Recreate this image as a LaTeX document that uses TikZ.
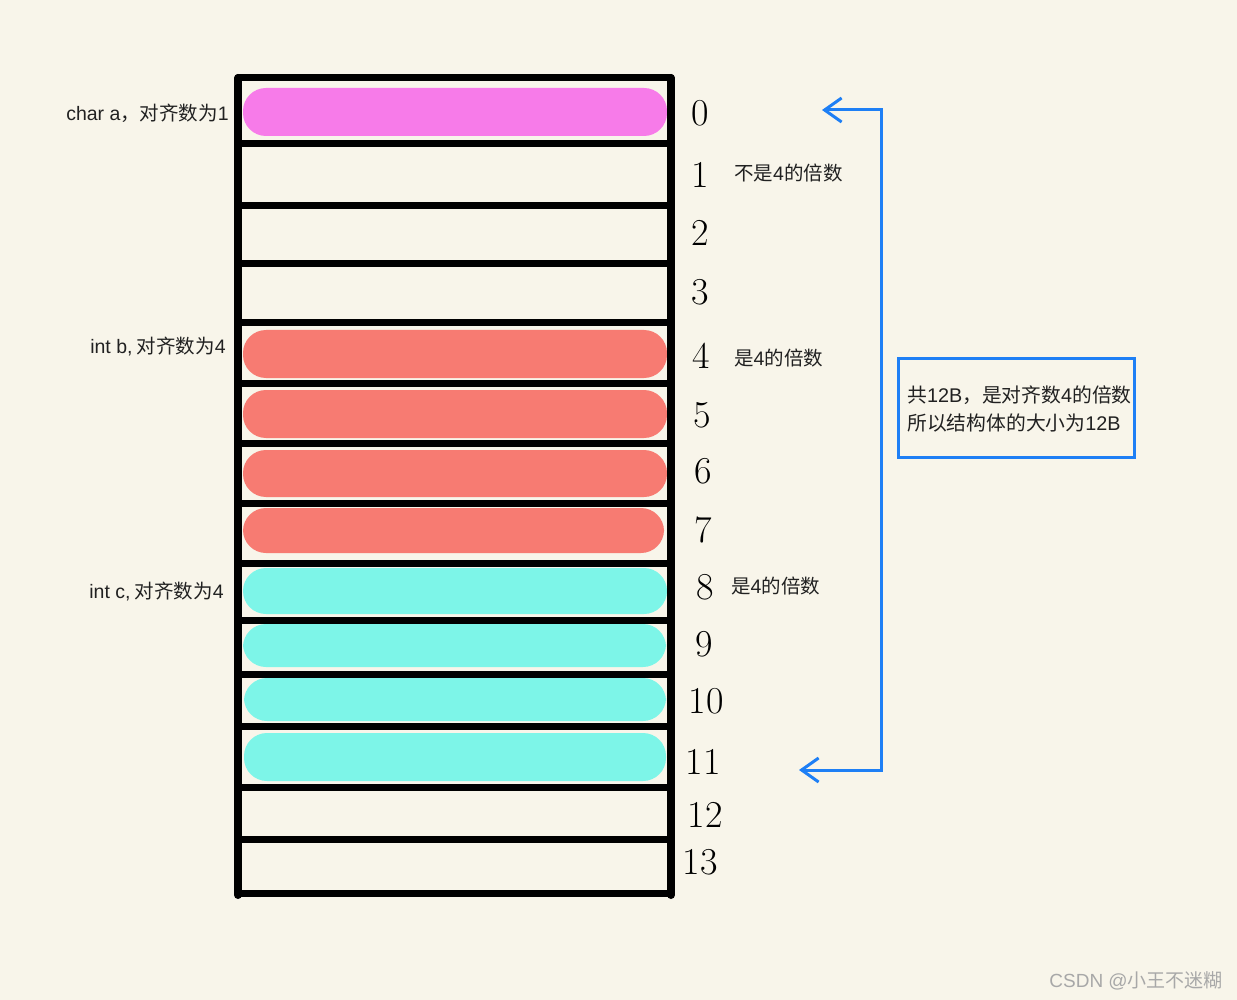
\documentclass[tikz,border=0pt]{standalone}
\usepackage{fontspec}
\newfontfamily\cjk{Noto Sans CJK SC}
\newfontfamily\lat{Liberation Sans}
\usetikzlibrary{arrows.meta}
\definecolor{bg}{HTML}{F8F5EA}
\definecolor{pinkc}{HTML}{F77BE9}
\definecolor{redc}{HTML}{F77B72}
\definecolor{cyanc}{HTML}{7DF5E8}
\definecolor{bluec}{HTML}{1E7FF5}
\definecolor{wm}{HTML}{A8A8A8}
\newcommand{\la}[1]{{\lat #1}}
\tikzset{
  pill/.style={rounded corners=23pt},
  gridline/.style={line width=7pt, line cap=round, black},
  frameline/.style={line width=8pt, line cap=round, black},
  idx/.style={font=\fontsize{38}{38}\selectfont, inner sep=0pt},
  lbl/.style={font=\cjk\fontsize{19.5}{24}\selectfont, inner sep=0pt, text=black!87},
  bl/.style={draw=bluec, line width=3pt},
  mybarb/.tip={Straight Barb[length=17pt,width=24pt,line width=3pt]}
}
\begin{document}
\begin{tikzpicture}[x=1pt,y=-1pt]
\fill[bg] (0,0) rectangle (1237,1000);
\useasboundingbox (0,0) rectangle (1237,1000);
% pills
\fill[pinkc, pill] (243,88) rectangle (667,136);
\fill[redc, pill] (243,330) rectangle (667,378);
\fill[redc, pill] (243,390) rectangle (667,438);
\fill[redc, pill] (243,450) rectangle (667,497);
\fill[redc, pill] (243,508) rectangle (664,553);
\fill[cyanc, pill] (243,568) rectangle (667,614);
\fill[cyanc, pill] (243,624) rectangle (666,667);
\fill[cyanc, pill] (244,678) rectangle (666,721);
\fill[cyanc, pill] (244,733) rectangle (666,781);
% grid
\foreach \yy in {78,144,206,264,323,383,443,503,563,620,674,726,787,839,893}
  \draw[gridline] (238,\yy) -- (671,\yy);
\draw[frameline] (238,78) -- (238,895);
\draw[frameline] (671,78) -- (671,895);
% indices
\node[idx] (n0) at (700,113) {0};
\node[idx] (n1) at (700,175) {1};
\node[idx] (n2) at (700,233) {2};
\node[idx] (n3) at (700,292) {3};
\node[idx] (n4) at (701,356) {4};
\node[idx] (n5) at (702,415) {5};
\node[idx] (n6) at (703,471) {6};
\node[idx] (n7) at (703,530) {7};
\node[idx] (n8) at (705,587) {8};
\node[idx] (n9) at (704,644) {9};
\node[idx] (n10) at (706,701) {10};
\node[idx] (n11) at (703,762) {11};
\node[idx] (n12) at (705,815) {12};
\node[idx] (n13) at (700,862) {13};
% left labels
\node[lbl, anchor=east] (la) at (229,113) {\la{char a}，对齐数为\la{1}};
\node[lbl, anchor=east] (lb) at (226,347) {\la{int b,} 对齐数为\la{4}};
\node[lbl, anchor=east] (lc) at (224,592) {\la{int c,} 对齐数为\la{4}};
% right notes
\node[lbl, anchor=west] (r1) at (734,173) {不是\la{4}的倍数};
\node[lbl, anchor=west] (r4) at (734,358) {是\la{4}的倍数};
\node[lbl, anchor=west] (r8) at (731,586) {是\la{4}的倍数};
% bracket
\coordinate (tt) at (822,110);
\coordinate (bt) at (799,770);
\draw[bl, mybarb-mybarb] (tt) -- (881,110) -- (881,770) -- (bt);
% box
\node[draw=bluec, line width=2.5pt, minimum width=236pt, minimum height=99pt, anchor=north west, inner sep=0pt] (box) at (897,357) {};
\node[lbl, anchor=west, align=left, font=\cjk\fontsize{19.8}{28}\selectfont] (boxt) at (907,409) {共\la{12B}，是对齐数\la{4}的倍数\\所以结构体的大小为\la{12B}};
% watermark
\node[font=\cjk\fontsize{19}{19}\selectfont, text=wm, anchor=east, inner sep=0pt] (wmk) at (1223,981) {\la{CSDN @}小王不迷糊};
\end{tikzpicture}
\end{document}
